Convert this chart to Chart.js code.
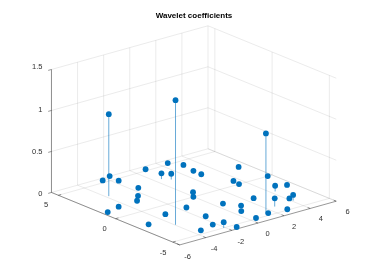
<!DOCTYPE html>
<html>
<head>
<meta charset="utf-8">
<script src="https://cdn.jsdelivr.net/npm/chart.js@4"></script>
<style>
  html, body { margin: 0; padding: 0; background: #fff; }
  canvas { display: block; }
</style>
</head>
<body>
<canvas id="grafico" width="374" height="280"></canvas>
<script>
  const xTicks = [-6, -4, -2, 0, 2, 4, 6];
  const yTicks = [-5, 0, 5];
  const zTicks = [0, 0.5, 1, 1.5];
  const zTickLabels = ['0', '0.5', '1', '1.5'];
  const xLim = [-6, 6];
  const yLim = [-5.6, 5.6];
  const zLim = [0, 1.5];

  // coefficient positions (x, y) and values (z)
  const coefX = [-2.6, -1.8, -1.9, 0.6, 2.3, 2.8, 0.5, 0.9, 2.6, 2.5,
                 5.1, 3.3, 3.2, 5.4, 4.3, 5.3, -1.8, -2.7, -3.3, 0.2,
                 -0.3, 2.6, 3.9, 4.1, 2.3, 0.3, 0.9, 0.3, 2.6, 1.4,
                 0.2, -4.8, -5.9, -3.5, -1.8, -1.9, -2.1, -2.5, -1.5, -3.5,
                 -5.4, -3.8, -3.95, 1.4];
  const coefY = [5.0, 5.3, 4.4, 4.9, 4.9, 4.1, 3.4, 3.0, 3.0, 2.2,
                 1.9, 0.3, -0.3, -0.3, -2.2, -2.1, 2.8, 1.8, 1.2, 0.3,
                 -0.3, -4.1, -3.9, -4.0, -2.6, -2.2, -3.1, -3.8, -5.2, -4.9,
                 -5.2, 1.1, 0.8, -1.5, -1.4, -3.2, -5.0, -4.5, -5.45, -4.6,
                 -2.2, 3.1, -2.9, -4.7];
  const coefZ = [0.03, 0.03, 0.03, 0.03, 0.03, 0.03, 0.07, 0.07, 0.03, 0.04,
                 0.03, 0.03, 0.03, 0.03, 0.07, 0.03, 0.03, 0.03, 0.03, 0.03,
                 0.03, 0.1, 0.03, 0.07, 0.03, 0.03, 0.03, 0.03, 0.03, 0.02,
                 0.03, 0.03, 0.03, 0.03, 0.03, 0.03, 0.07, 0.03, 0.01, 0.01,
                 0.03, 1.0, 1.52, 0.98];

  // fixed 3d view -> canvas units (the hidden linear scales are in pixels)
  const vista = { ox: 194, oy: 198.5, xx: 13.33, xy: -3.75, yx: -11.7, yy: -4.82, zy: -84.4 };
  const proj = (x, y, z) => ({
    x: vista.ox + vista.xx * x + vista.yx * y,
    y: vista.oy + vista.xy * x + vista.yy * y + vista.zy * z
  });

  // list of [p1, p2] pairs -> one polyline with gaps
  const segmentos = (pares) => {
    const out = [];
    pares.forEach(([a, b]) => {
      out.push(proj(...a), proj(...b), { x: 0, y: null });
    });
    return out;
  };

  const [x0, x1] = xLim, [y0, y1] = yLim, [z0, z1] = zLim;

  const grade = [];
  xTicks.forEach(t => grade.push([[t, y0, 0], [t, y1, 0]], [[t, y1, z0], [t, y1, z1]]));
  yTicks.forEach(t => grade.push([[x0, t, 0], [x1, t, 0]], [[x1, t, z0], [x1, t, z1]]));
  zTicks.forEach(t => grade.push([[x0, y1, t], [x1, y1, t]], [[x1, y0, t], [x1, y1, t]]));

  const eixos = [
    [[x0, y0, 0], [x1, y0, 0]],
    [[x0, y0, 0], [x0, y1, 0]],
    [[x0, y1, z0], [x0, y1, z1]]
  ];
  xTicks.forEach(t => eixos.push([[t, y0, 0], [t, y0 + 0.22, 0]]));
  yTicks.forEach(t => eixos.push([[x0, t, 0], [x0 + 0.22, t, 0]]));
  zTicks.forEach(t => eixos.push([[x0, y1, t], [x0 - 0.25, y1, t]]));

  const hastes = coefX.map((x, i) => [[x, coefY[i], 0], [x, coefY[i], coefZ[i]]]);
  const pontos = coefX.map((x, i) => proj(x, coefY[i], coefZ[i]));

  const fonte = '"Liberation Sans", Arial, Helvetica, sans-serif';

  const textos = {
    id: 'textos',
    afterDatasetsDraw(chart) {
      const ctx = chart.ctx;
      ctx.save();
      ctx.fillStyle = '#303030';
      ctx.font = '7.5px ' + fonte;
      ctx.textAlign = 'center';
      ctx.textBaseline = 'middle';
      xTicks.forEach(t => {
        const p = proj(t, y0, 0);
        ctx.fillText(String(t), p.x + 8, p.y + 8.5);
      });
      yTicks.forEach(t => {
        const p = proj(x0, t, 0);
        ctx.fillText(String(t), p.x - 9.5, p.y + 8);
      });
      ctx.textAlign = 'right';
      zTicks.forEach((t, i) => {
        const p = proj(x0, y1, t);
        ctx.fillText(zTickLabels[i], p.x - 6, p.y);
      });
      ctx.fillStyle = '#000';
      ctx.font = 'bold 8px ' + fonte;
      ctx.textAlign = 'center';
      const c = proj(0, 0, 0);
      ctx.fillText('Wavelet coefficients', c.x, 15.5);
      ctx.restore();
    }
  };

  const linha = (data, cor, largura) => ({
    data, showLine: true, borderColor: cor, borderWidth: largura,
    pointRadius: 0, fill: false, tension: 0, spanGaps: false
  });

  new Chart(document.getElementById('grafico').getContext('2d'), {
    type: 'scatter',
    data: {
      datasets: [
        {
          data: pontos,
          pointRadius: 2.9,
          pointBackgroundColor: '#0072BD',
          pointBorderWidth: 0,
          showLine: false
        },
        linha(segmentos(hastes), 'rgba(0, 114, 189, 0.6)', 1),
        linha(segmentos(eixos), 'rgba(38, 38, 38, 0.6)', 0.8),
        linha(segmentos(grade), 'rgba(38, 38, 38, 0.12)', 0.8)
      ]
    },
    options: {
      responsive: false,
      animation: false,
      layout: { padding: 0 },
      plugins: { legend: { display: false }, tooltip: { enabled: false }, title: { display: false } },
      scales: {
        x: { type: 'linear', min: 0, max: 374, display: false },
        y: { type: 'linear', min: 0, max: 280, reverse: true, display: false }
      }
    },
    plugins: [textos]
  });
</script>
</body>
</html>
